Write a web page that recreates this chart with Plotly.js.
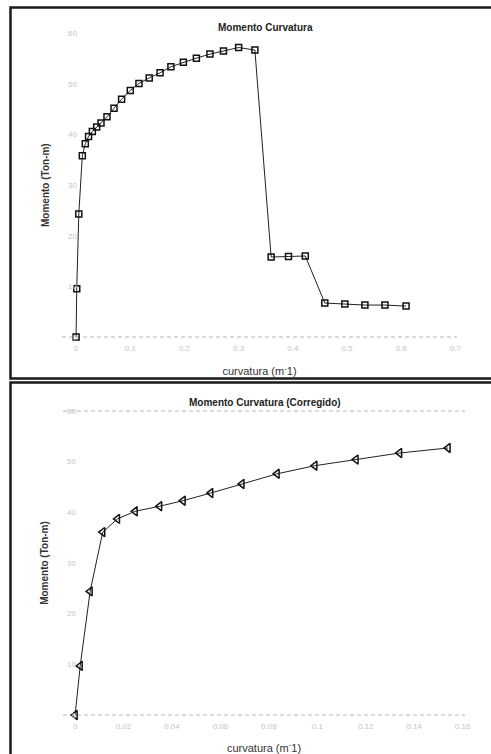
<!DOCTYPE html>
<html>
<head>
<meta charset="utf-8">
<script src="https://cdn.plot.ly/plotly-3.0.1.min.js"></script>
<style>html,body{margin:0;padding:0;background:#fff;}#chart{width:491px;height:754px;}</style>
</head>
<body>
<div id="chart"></div>
<script>
// Top chart: Momento Curvatura
const curvaturaTop = [0, 0.0012, 0.005, 0.0115, 0.017, 0.023, 0.030, 0.038, 0.046, 0.057, 0.070, 0.084, 0.100, 0.116, 0.135, 0.155, 0.175, 0.198, 0.222, 0.247, 0.272, 0.300, 0.330, 0.360, 0.392, 0.423, 0.459, 0.496, 0.533, 0.570, 0.609];
const momentoTop = [0, 9.5, 24.3, 35.8, 38.2, 39.6, 40.6, 41.5, 42.3, 43.5, 45.2, 47.0, 48.7, 50.1, 51.2, 52.2, 53.4, 54.3, 55.1, 55.9, 56.5, 57.2, 56.7, 15.8, 15.9, 16.0, 6.7, 6.5, 6.3, 6.3, 6.1];
// Bottom chart: Momento Curvatura (Corregido)
const curvaturaBot = [0, 0.0021, 0.0062, 0.0114, 0.0175, 0.0248, 0.0349, 0.0446, 0.056, 0.0689, 0.0834, 0.099, 0.116, 0.134, 0.154];
const momentoBot = [0, 9.7, 24.4, 36.1, 38.7, 40.2, 41.2, 42.3, 43.8, 45.6, 47.6, 49.2, 50.4, 51.7, 52.7];
// Ticks
const xTicksTop = [0, 0.1, 0.2, 0.3, 0.4, 0.5, 0.6, 0.7];
const xTickTextTop = ["0", "0.1", "0.2", "0.3", "0.4", "0.5", "0.6", "0.7"];
const xTicksBot = [0, 0.02, 0.04, 0.06, 0.08, 0.1, 0.12, 0.14, 0.16];
const xTickTextBot = ["0", "0.02", "0.04", "0.06", "0.08", "0.1", "0.12", "0.14", "0.16"];
const yTicks = [0, 10, 20, 30, 40, 50, 60];
const titleTop = "Momento Curvatura";
const titleBot = "Momento Curvatura (Corregido)";
const yTitle = "Momento (Ton-m)";
const xTitle = "curvatura (m<sup>-</sup>1)";

const W = 491, H = 754;
const px = v => v / W;
const py = v => 1 - v / H;

const tickFont = {family: "Liberation Sans, Arial, sans-serif", size: 8, color: "#c4c4c4"};
const yTitleFont = {family: "Liberation Sans, Arial, sans-serif", size: 10, color: "#333", weight: "bold"};
const xTitleFont = {family: "Liberation Sans, Arial, sans-serif", size: 11, color: "#333"};

const traces = [
  {x: curvaturaTop, y: momentoTop, xaxis: "x", yaxis: "y", type: "scatter", mode: "lines+markers",
   line: {color: "#222", width: 1},
   marker: {symbol: "square-open", size: 6, color: "#111", line: {width: 1.5, color: "#111"}},
   cliponaxis: false, showlegend: false},
  {x: curvaturaBot, y: momentoBot, xaxis: "x2", yaxis: "y2", type: "scatter", mode: "lines+markers",
   line: {color: "#222", width: 1},
   marker: {symbol: "triangle-left-open", size: 8, color: "#111", line: {width: 1.5, color: "#111"}},
   cliponaxis: false, showlegend: false}
];

const dashLine = (xref, yref, x0, x1, y) => ({type: "line", xref: xref, yref: yref, x0: x0, x1: x1, y0: y, y1: y,
  line: {color: "#cfcfcf", width: 1.5, dash: "4px,3px"}, layer: "below"});

const layout = {
  width: W, height: H,
  margin: {l: 0, r: 0, t: 0, b: 0},
  paper_bgcolor: "#fff", plot_bgcolor: "rgba(0,0,0,0)",
  font: {family: "Liberation Sans, Arial, sans-serif"},
  xaxis: {domain: [px(62), px(457)], range: [-0.026, 0.703], anchor: "y",
    tickvals: xTicksTop, ticktext: xTickTextTop, tickfont: tickFont, showgrid: false, zeroline: false,
    showline: false, ticks: "", automargin: false,
    title: {text: xTitle, font: xTitleFont, standoff: 15}},
  yaxis: {domain: [py(342), py(28.3)], range: [-1, 61], anchor: "free", position: px(77), side: "left",
    tickvals: yTicks, tickfont: tickFont, showgrid: false, zeroline: false, showline: false, ticks: "",
    automargin: false,
    title: {text: yTitle, font: yTitleFont, standoff: 15}},
  xaxis2: {domain: [px(63), px(465)], range: [-0.005, 0.161], anchor: "y2",
    tickvals: xTicksBot, ticktext: xTickTextBot, tickfont: tickFont, showgrid: false, zeroline: false,
    showline: false, ticks: "", automargin: false,
    title: {text: xTitle, font: xTitleFont, standoff: 16}},
  yaxis2: {domain: [py(720.1), py(405.9)], range: [-1, 61], anchor: "free", position: px(76), side: "left",
    tickvals: yTicks, tickfont: tickFont, showgrid: false, zeroline: false, showline: false, ticks: "",
    automargin: false,
    title: {text: yTitle, font: yTitleFont, standoff: 15}},
  shapes: [
    dashLine("x", "y", -0.026, 0.703, 0),
    dashLine("x2", "y2", -0.005, 0.161, 0),
    dashLine("x2", "y2", -0.005, 0.161, 60),
    {type: "rect", xref: "paper", yref: "paper", x0: px(10.5), x1: 1.02, y0: py(378.5), y1: py(7.5),
     line: {color: "#1a1a1a", width: 2.5}, fillcolor: "rgba(0,0,0,0)"},
    {type: "rect", xref: "paper", yref: "paper", x0: px(10.5), x1: 1.02, y0: py(758), y1: py(382.5),
     line: {color: "#1a1a1a", width: 2.5}, fillcolor: "rgba(0,0,0,0)"}
  ],
  annotations: [
    {text: "<b>" + titleTop + "</b>", xref: "paper", yref: "paper", x: px(265), y: py(27), showarrow: false,
     font: {size: 10, color: "#222"}, xanchor: "center", yanchor: "middle"},
    {text: "<b>" + titleBot + "</b>", xref: "paper", yref: "paper", x: px(265), y: py(402), showarrow: false,
     font: {size: 10, color: "#222"}, xanchor: "center", yanchor: "middle"}
  ]
};

Plotly.newPlot("chart", traces, layout, {displayModeBar: false, staticPlot: true});
</script>
</body>
</html>
